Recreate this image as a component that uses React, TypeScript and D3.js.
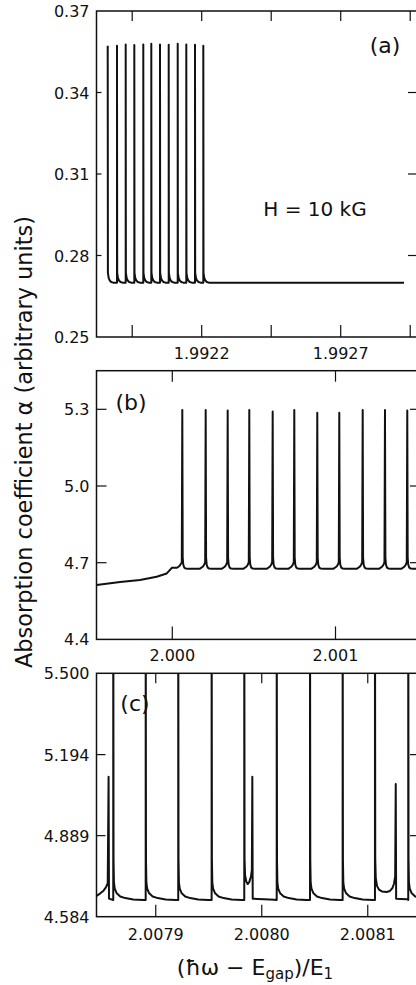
import { useEffect, useRef } from 'react';
import * as d3 from 'd3';

type Pt = [number, number];

// ---- panel (a): H = 10 kG ----
const aSpikeX = [
  1.9918619, 1.9918953, 1.9919266, 1.9919576, 1.9919899, 1.9920187, 1.99205, 1.9920813,
  1.9921137, 1.9921446, 1.9921759, 1.9922058,
];
const aSpikePeak = [0.3572, 0.3572, 0.3577, 0.3575, 0.3577, 0.3579, 0.3577, 0.3576, 0.3579, 0.3577, 0.3576, 0.3572];
const aPre: Pt[] = [[0, 0.27]];
const aPost: Pt[] = [[7e-7, 0.2736], [3.6e-6, 0.2717], [7.2e-6, 0.2708], [1.26e-5, 0.27025], [1.98e-5, 0.27]];
const aLead: Pt[] = [];
const aTrail: Pt[] = [[1.9929277, 0.27]];
const aXDomain = [1.9918216, 1.992978];
const aYDomain = [0.25, 0.37];
const aXTicks = [1.99195, 1.9922, 1.99245, 1.9927, 1.99295];
const aXLabels = [1.9922, 1.9927];
const aYTicks = [0.25, 0.28, 0.31, 0.34, 0.37];

// ---- panel (b) ----
const bSpikeX = [
  2.0000613, 2.0002046, 2.0003394, 2.0004718, 2.0006151, 2.0007475, 2.0008884, 2.0010232,
  2.0011666, 2.0013032, 2.0014398,
];
const bSpikePeak = [5.297, 5.297, 5.295, 5.297, 5.291, 5.297, 5.287, 5.287, 5.297, 5.297, 5.295];
const bPre: Pt[] = [[-3.68e-5, 4.676], [-1.84e-5, 4.684], [-9.2e-6, 4.692], [-3.1e-6, 4.702]];
const bPost: Pt[] = [[2.5e-6, 4.72], [6.1e-6, 4.692], [1.23e-5, 4.681], [2.14e-5, 4.677], [3.68e-5, 4.676]];
const bLead: Pt[] = [
  [1.999536, 4.613], [1.99968, 4.6245], [1.999802, 4.632], [1.999904, 4.645], [1.999966, 4.658],
  [1.999986, 4.672], [1.999998, 4.68], [2.000029, 4.68], [2.000044, 4.687], [2.000055, 4.698],
];
const bTrail: Pt[] = [[2.0015055, 4.677]];
const bXDomain = [1.9995356, 2.0015055];
const bYDomain = [4.4, 5.451];
const bXTicks = [2.0, 2.001];
const bXLabels = [2.0, 2.001];
const bYTicks = [4.4, 4.7, 5.0, 5.3];

// ---- panel (c) ----
const cSpikeX = [
  2.0078555, 2.0078599, 2.0078905, 2.0079212, 2.0079527, 2.0079835, 2.0079911, 2.0080141,
  2.0080455, 2.0080763, 2.0081068, 2.0081264, 2.0081382,
];
const cSpikePeak = [5.111, 6, 6, 6, 6, 6, 5.111, 6, 6, 6, 6, 5.083, 6];
const cSpikeKind = ['small', 'big', 'big', 'big', 'big', 'bigV', 'small', 'big', 'big', 'big', 'bigU', 'small', 'big'];
const cBigPre: Pt[] = [[0, 4.647]];
const cBigPost: Pt[] = [
  [2.8e-7, 4.8], [6.6e-7, 4.712], [1.42e-6, 4.69], [3.3e-6, 4.672], [6.6e-6, 4.66],
  [1.132e-5, 4.654], [1.887e-5, 4.649], [2.83e-5, 4.647],
];
const cVPost: Pt[] = [
  [2.8e-7, 4.8], [7.5e-7, 4.74], [1.89e-6, 4.717], [3.21e-6, 4.707], [4.72e-6, 4.714],
  [6.32e-6, 4.735], [7.17e-6, 4.76],
];
const cUPost: Pt[] = [
  [2.8e-7, 4.8], [7.5e-7, 4.73], [1.89e-6, 4.7], [3.77e-6, 4.686], [6.6e-6, 4.679],
  [1.104e-5, 4.677], [1.415e-5, 4.681], [1.651e-5, 4.692], [1.792e-5, 4.708], [1.906e-5, 4.735],
];
const cSmallPre: Pt[] = [];
const cSmallPost: Pt[] = [[3.8e-7, 4.652], [4.7e-6, 4.651], [1.13e-5, 4.65], [2.08e-5, 4.648]];
const cLead: Pt[] = [
  [2.0078441, 4.662], [2.0078474, 4.671], [2.0078507, 4.682], [2.007853, 4.694], [2.0078547, 4.71],
];
const cTrail: Pt[] = [];
const cXDomain = [2.0078441, 2.0081474];
const cYDomain = [4.584, 5.5];
const cXTicks = [2.0079, 2.008, 2.0081];
const cXLabels = [2.0079, 2.008, 2.0081];
const cYTicks = [4.584, 4.889, 5.194, 5.5];

function buildPoints(lead: Pt[], xs: number[], peaks: number[], pres: Pt[][], posts: Pt[][], trail: Pt[]) {
  const pts: Pt[] = [...lead];
  xs.forEach((x, i) => {
    const hasNext = i + 1 < xs.length;
    const nextStart = hasNext ? xs[i + 1] + (pres[i + 1].length ? pres[i + 1][0][0] : 0) : Infinity;
    if (pts.length) {
      pres[i].forEach(([dx, v]) => {
        if (x + dx >= pts[pts.length - 1][0]) pts.push([x + dx, v]);
      });
    }
    pts.push([x, peaks[i]]);
    posts[i].forEach(([dx, v]) => {
      if (x + dx < nextStart) pts.push([x + dx, v]);
    });
  });
  trail.forEach((p) => pts.push(p));
  return pts;
}

const cProfiles: Record<string, [Pt[], Pt[]]> = {
  small: [cSmallPre, cSmallPost],
  big: [cBigPre, cBigPost],
  bigV: [cBigPre, cVPost],
  bigU: [cBigPre, cUPost],
};

export default function App() {
  const svgRef = useRef<SVGSVGElement>(null);

  useEffect(() => {
    const svg = d3.select(svgRef.current);
    svg.selectAll('*').remove();
    const font = 'DejaVu Sans, sans-serif';
    const ink = '#111';

    const panels = [
      {
        id: 'a',
        box: { left: 96.5, right: 418, top: 11, bottom: 337 },
        tick: { top: 10, bottom: 12, left: 5, right: 10 },
        xDomain: aXDomain, yDomain: aYDomain, xTicks: aXTicks, xLabels: aXLabels, yTicks: aYTicks,
        xFmt: d3.format('.4f'), yFmt: d3.format('.2f'), xLabelGap: 22,
        points: buildPoints(aLead, aSpikeX, aSpikePeak, aSpikeX.map(() => aPre), aSpikeX.map(() => aPost), aTrail),
        tag: '(a)', tagPos: [385, 53],
      },
      {
        id: 'b',
        box: { left: 96.5, right: 418, top: 370.7, bottom: 639.4 },
        tick: { top: 11, bottom: 13, left: 10, right: 8 },
        xDomain: bXDomain, yDomain: bYDomain, xTicks: bXTicks, xLabels: bXLabels, yTicks: bYTicks,
        xFmt: d3.format('.3f'), yFmt: d3.format('.1f'), xLabelGap: 22,
        points: buildPoints(bLead, bSpikeX, bSpikePeak, bSpikeX.map(() => bPre), bSpikeX.map(() => bPost), bTrail),
        tag: '(b)', tagPos: [131, 410],
      },
      {
        id: 'c',
        box: { left: 96.5, right: 418, top: 673.3, bottom: 916.7 },
        tick: { top: 10, bottom: 12, left: 9, right: 8 },
        xDomain: cXDomain, yDomain: cYDomain, xTicks: cXTicks, xLabels: cXLabels, yTicks: cYTicks,
        xFmt: d3.format('.4f'), yFmt: d3.format('.3f'), xLabelGap: 23,
        points: buildPoints(
          cLead, cSpikeX, cSpikePeak,
          cSpikeKind.map((k) => cProfiles[k][0]), cSpikeKind.map((k) => cProfiles[k][1]), cTrail,
        ),
        tag: '(c)', tagPos: [135, 711],
      },
    ];

    panels.forEach((p) => {
      const { box, tick } = p;
      const x = d3.scaleLinear().domain(p.xDomain).range([box.left, box.right]);
      const y = d3.scaleLinear().domain(p.yDomain).range([box.bottom, box.top]);
      const g = svg.append('g');

      g.append('clipPath')
        .attr('id', `clip-${p.id}`)
        .append('rect')
        .attr('x', box.left)
        .attr('y', box.top)
        .attr('width', box.right - box.left)
        .attr('height', box.bottom - box.top);

      const line = d3
        .line<Pt>()
        .x((d) => x(d[0]))
        .y((d) => y(d[1]));

      g.append('path')
        .datum(p.points)
        .attr('clip-path', `url(#clip-${p.id})`)
        .attr('fill', 'none')
        .attr('stroke', ink)
        .attr('stroke-width', 2)
        .attr('stroke-linejoin', 'round')
        .attr('d', line);

      g.append('rect')
        .attr('x', box.left)
        .attr('y', box.top)
        .attr('width', box.right - box.left)
        .attr('height', box.bottom - box.top)
        .attr('fill', 'none')
        .attr('stroke', ink)
        .attr('stroke-width', 1.5);

      const ticks = g.append('g').attr('stroke', ink).attr('stroke-width', 1.2);
      p.xTicks.forEach((t) => {
        ticks.append('line').attr('x1', x(t)).attr('x2', x(t)).attr('y1', box.top).attr('y2', box.top + tick.top);
        ticks.append('line').attr('x1', x(t)).attr('x2', x(t)).attr('y1', box.bottom).attr('y2', box.bottom - tick.bottom);
      });
      p.yTicks
        .filter((t) => t !== p.yDomain[0] && t !== p.yDomain[1])
        .forEach((t) => {
          ticks.append('line').attr('x1', box.left).attr('x2', box.left + tick.left).attr('y1', y(t)).attr('y2', y(t));
          ticks.append('line').attr('x1', box.right).attr('x2', box.right - tick.right).attr('y1', y(t)).attr('y2', y(t));
        });

      g.selectAll(null)
        .data(p.xLabels)
        .join('text')
        .attr('x', (d) => x(d))
        .attr('y', box.bottom + p.xLabelGap)
        .attr('text-anchor', 'middle')
        .attr('font-family', font)
        .attr('font-size', 16)
        .attr('fill', ink)
        .text((d) => p.xFmt(d));

      g.selectAll(null)
        .data(p.yTicks)
        .join('text')
        .attr('x', box.left - 7)
        .attr('y', (d) => y(d) + 6)
        .attr('text-anchor', 'end')
        .attr('font-family', font)
        .attr('font-size', 16)
        .attr('fill', ink)
        .text((d) => p.yFmt(d));

      g.append('text')
        .attr('x', p.tagPos[0])
        .attr('y', p.tagPos[1])
        .attr('text-anchor', 'middle')
        .attr('font-family', font)
        .attr('font-size', 22)
        .attr('fill', ink)
        .text(p.tag);
    });

    svg.append('text')
      .attr('x', 315)
      .attr('y', 216)
      .attr('text-anchor', 'middle')
      .attr('font-family', font)
      .attr('font-size', 20)
      .attr('fill', ink)
      .text('H = 10 kG');

    svg.append('text')
      .attr('transform', 'translate(32,442) rotate(-90)')
      .attr('text-anchor', 'middle')
      .attr('font-family', font)
      .attr('font-size', 23)
      .attr('textLength', 452)
      .attr('lengthAdjust', 'spacingAndGlyphs')
      .attr('fill', ink)
      .text('Absorption coefficient α (arbitrary units)');

    const xt = svg.append('text')
      .attr('x', 255)
      .attr('y', 975)
      .attr('text-anchor', 'middle')
      .attr('font-family', font)
      .attr('font-size', 22)
      .attr('fill', ink);
    xt.append('tspan').text('(ħω − E');
    xt.append('tspan').attr('font-size', 15).attr('dy', 4).text('gap');
    xt.append('tspan').attr('dy', -4).text(')/E');
    xt.append('tspan').attr('font-size', 15).attr('dy', 4).text('1');
  }, []);

  return (
    <svg
      ref={svgRef}
      width={416}
      height={985}
      style={{ position: 'absolute', left: 0, top: 0, background: '#fff' }}
    />
  );
}
